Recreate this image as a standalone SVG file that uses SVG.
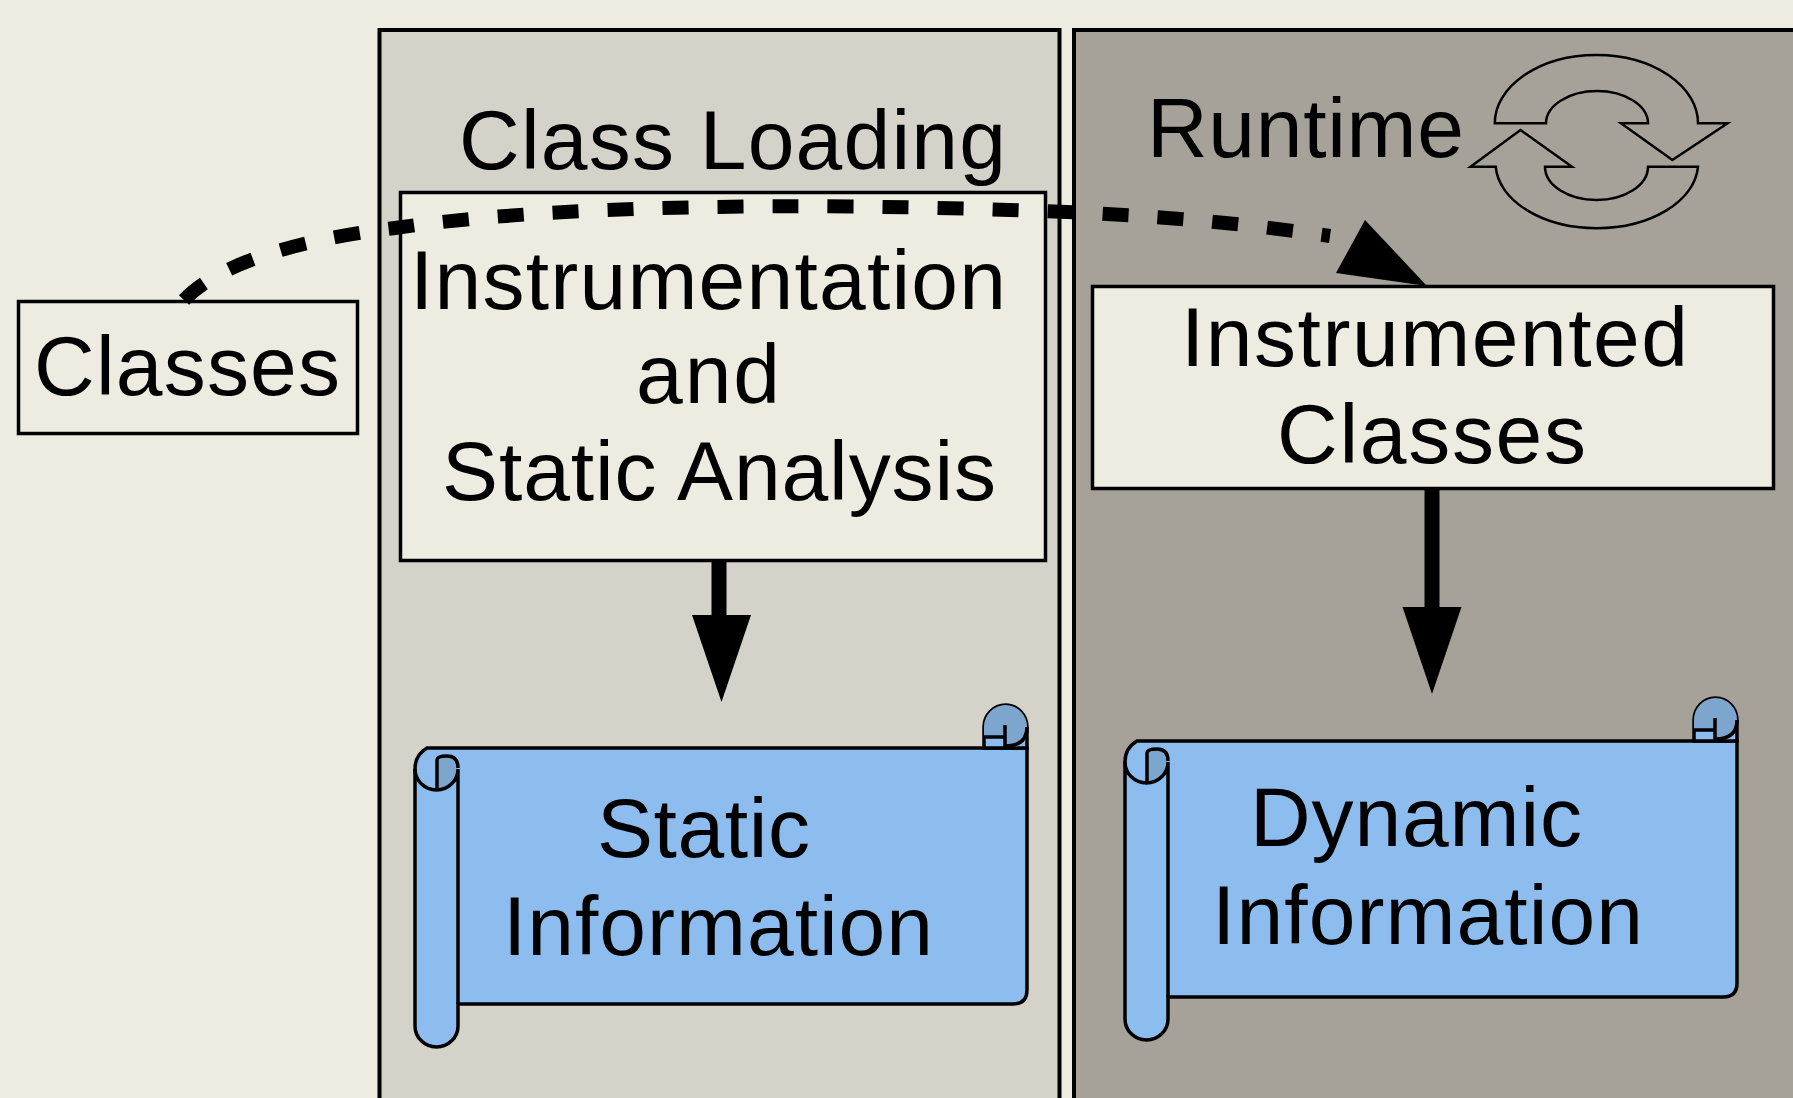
<svg xmlns="http://www.w3.org/2000/svg" width="1793" height="1098" viewBox="0 0 1793 1098">
  <defs>
    <marker id="block" markerUnits="userSpaceOnUse" markerWidth="87" markerHeight="64" refX="0" refY="29.5" orient="auto">
      <path d="M0 0L87 29.5L0 59Z" fill="#000"/>
    </marker>
    <marker id="blockShift" markerUnits="userSpaceOnUse" markerWidth="87" markerHeight="64" refX="0" refY="32" orient="auto">
      <path d="M0 0L87 29.5L0 59Z" fill="#000"/>
    </marker>
    <g id="scrollShape">
      <path class="sb" d="M427 748H1027V990Q1027 1004 1013 1004H458V1026A21.5 21 0 0 1 415 1026V769Q415 755 427 748Z"/>
      <path class="sb" d="M984 748V727A21.5 22 0 0 1 1027 727V748Z"/>
      <path class="sd" d="M1005 746Q1027 746 1027 727A21.5 22 0 0 0 984 727V737H1005Z"/>
      <path class="sd" d="M437 758Q437 756 447 756Q458 756 458 768Q458 790 437 790Z"/>
      <path class="sl" d="M415 769A21.5 21 0 0 0 458 769V1004M437 790V760Q437 756 447 756Q458 756 458 768M1005 748V725M984 737H1005M1005 746Q1027 746 1027 727"/>
    </g>
  </defs>
  <style>
    text{font-family:"Liberation Sans",Arial,sans-serif;font-size:84px;fill:#000}
    .box{fill:#EEECE1;stroke:#000;stroke-width:3.5}
    .sb{fill:#8DBDEE;stroke:#000;stroke-width:3.500}
    .sd{fill:#7DA6CF;stroke:none}
    .sl{fill:none;stroke:#000;stroke-width:3.500}
    .cyc{fill:none;stroke:#000;stroke-width:2.500}
    .flow{fill:none;stroke:#000;stroke-width:15}
    .dash{fill:none;stroke:#000;stroke-width:14;stroke-dasharray:26 29}
  </style>
  <rect width="1793" height="1098" fill="#EEECE1"/>
  <g id="panel-class-loading">
    <rect x="379.500" y="30" width="680" height="1080" fill="#D5D2CA" stroke="#000" stroke-width="4"/>
    <text x="459" y="169" textLength="547">Class Loading</text>
  </g>
  <g id="panel-runtime">
    <rect x="1074" y="30" width="730" height="1080" fill="#A6A299" stroke="#000" stroke-width="4"/>
    <text x="1147" y="157" textLength="317">Runtime</text>
    <path class="cyc" d="M1494.800 123.300A101.600 68.300 0 0 1 1698 123.300H1727.600L1672.400 160L1621 123.300H1648A51 32.300 0 0 0 1546 123.300Z"/>
    <path class="cyc" d="M1698 166.700A101.300 65 0 0 1 1495.700 166.700H1470.500L1520.500 130L1572 166.700H1545A51.500 33.300 0 0 0 1648 166.700Z"/>
  </g>
  <g id="node-classes">
    <rect class="box" x="18.500" y="301.500" width="339" height="132"/>
    <text x="34" y="395" textLength="306">Classes</text>
  </g>
  <g id="node-instrumentation">
    <rect class="box" x="400.500" y="192.500" width="645" height="368"/>
    <text x="410" y="309" textLength="596">Instrumentation</text>
    <text x="636" y="403" textLength="144">and</text>
    <text x="442" y="500" textLength="554">Static Analysis</text>
  </g>
  <g id="node-instrumented">
    <rect class="box" x="1092.500" y="286.500" width="681" height="202"/>
    <text x="1181" y="366" textLength="507">Instrumented</text>
    <text x="1277" y="463" textLength="309">Classes</text>
  </g>
  <g id="node-static">
    <use href="#scrollShape"/>
    <text x="597" y="857" textLength="213">Static</text>
    <text x="503" y="955" textLength="430">Information</text>
  </g>
  <g id="node-dynamic">
    <use href="#scrollShape" x="710" y="-7"/>
    <text x="1250" y="846" textLength="332">Dynamic</text>
    <text x="1212" y="944" textLength="431">Information</text>
  </g>
  <g id="connectors">
    <path class="flow" d="M719 560V615" marker-end="url(#blockShift)"/>
    <path class="flow" d="M1432 488V607" marker-end="url(#block)"/>
    <path class="dash" d="M184 300C222 260 310 238 395 228C550 205 800 202 1040 211C1180 216 1260 226 1330 236"/>
    <path d="M1365 220L1427 286L1336 273Z" fill="#000"/>
  </g>
</svg>
